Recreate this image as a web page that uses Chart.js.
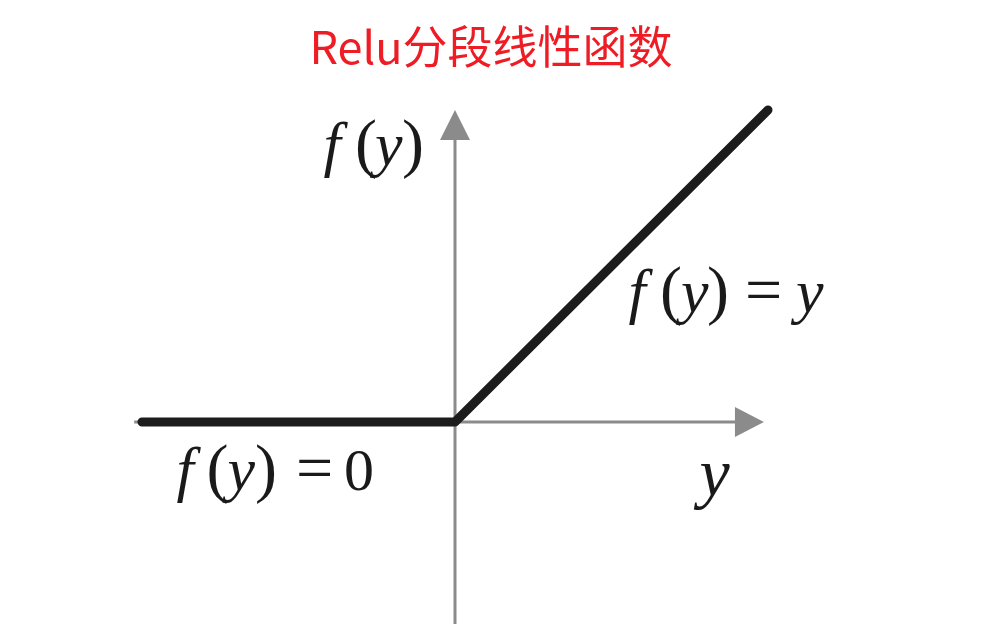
<!DOCTYPE html>
<html>
<head>
<meta charset="utf-8">
<script src="https://cdn.jsdelivr.net/npm/chart.js@4"></script>
<style>
  html, body { margin: 0; padding: 0; background: #ffffff; }
  #wrap { position: relative; width: 982px; height: 624px; }
</style>
</head>
<body>
<div id="wrap"><canvas id="c"></canvas></div>
<script>
// ---- data ----
const chartTitle = "Relu分段线性函数";
const inputValues = [-1, 0, 1];      // y (input)
const reluValues  = [0, 0, 1];       // f(y) = max(0, y)
const axisXRange  = [-1.025, 0.987]; // gray horizontal axis extent (data units)
const axisYTop    = 1.0;             // gray vertical axis arrow tip (data units)

// ---- annotation glyph layout (pixel offsets from the origin) ----
const labels = [
  { dy: 68, glyphs: [
    { t: "f", cx: -266, italic: true, size: 62 },
    { t: "(", cx: -237.5, size: 66 },
    { t: "y", cx: -216.5, italic: true, size: 62 },
    { t: ")", cx: -189, size: 66 },
    { t: "=", cx: -140.5, size: 66 },
    { t: "0", cx: -96, size: 60 } ] },
  { dy: -110, glyphs: [
    { t: "f", cx: 186, italic: true, size: 62 },
    { t: "(", cx: 216, size: 66 },
    { t: "y", cx: 237, italic: true, size: 62 },
    { t: ")", cx: 263, size: 66 },
    { t: "=", cx: 308.5, size: 66 },
    { t: "y", cx: 352, italic: true, size: 62 } ] },
  { dy: -257, glyphs: [
    { t: "f", cx: -119, italic: true, size: 62 },
    { t: "(", cx: -89, size: 66 },
    { t: "y", cx: -69, italic: true, size: 62 },
    { t: ")", cx: -42, size: 66 } ] },
  { dy: 74, glyphs: [
    { t: "y", cx: 257, italic: true, size: 68 } ] }
];

const axesPlugin = {
  id: "arrowAxes",
  beforeDatasetsDraw(chart) {
    const { ctx, scales: { x, y } } = chart;
    const ox = x.getPixelForValue(0), oy = y.getPixelForValue(0);
    const gray = "#8b8b8b";
    ctx.save();
    ctx.strokeStyle = gray; ctx.fillStyle = gray; ctx.lineWidth = 3;
    // horizontal axis
    const xl = x.getPixelForValue(axisXRange[0]), xr = x.getPixelForValue(axisXRange[1]);
    ctx.beginPath(); ctx.moveTo(xl, oy); ctx.lineTo(xr - 26, oy); ctx.stroke();
    ctx.beginPath(); ctx.moveTo(xr, oy); ctx.lineTo(xr - 29, oy - 15); ctx.lineTo(xr - 29, oy + 15); ctx.closePath(); ctx.fill();
    // vertical axis
    const yt = y.getPixelForValue(axisYTop), yb = y.getPixelForValue(y.min);
    ctx.beginPath(); ctx.moveTo(ox, yb); ctx.lineTo(ox, yt + 26); ctx.stroke();
    ctx.beginPath(); ctx.moveTo(ox, yt); ctx.lineTo(ox - 15, yt + 30); ctx.lineTo(ox + 15, yt + 30); ctx.closePath(); ctx.fill();
    ctx.restore();
  },
  afterDatasetsDraw(chart) {
    const { ctx, scales: { x, y } } = chart;
    const ox = x.getPixelForValue(0), oy = y.getPixelForValue(0);
    ctx.save();
    ctx.fillStyle = "#1a1a1a";
    ctx.textAlign = "left";
    ctx.textBaseline = "alphabetic";
    labels.forEach(lb => {
      lb.glyphs.forEach(g => {
        ctx.font = (g.italic ? "italic " : "") + g.size + "px 'Liberation Serif', 'DejaVu Serif', serif";
        const m = ctx.measureText(g.t);
        const px = ox + g.cx - (m.actualBoundingBoxRight - m.actualBoundingBoxLeft) / 2;
        ctx.fillText(g.t, px, oy + lb.dy);
      });
    });
    ctx.restore();
  }
};

new Chart(document.getElementById("c"), {
  type: "scatter",
  data: {
    datasets: [{
      data: inputValues.map((v, i) => ({ x: v, y: reluValues[i] })),
      showLine: true,
      borderColor: "#1c1c1c",
      borderWidth: 9,
      borderCapStyle: "round",
      borderJoinStyle: "round",
      pointRadius: 0,
      pointHoverRadius: 0,
      tension: 0
    }]
  },
  options: {
    responsive: true,
    maintainAspectRatio: false,
    animation: false,
    layout: { padding: 0 },
    plugins: {
      legend: { display: false },
      tooltip: { enabled: false },
      title: {
        display: true,
        text: chartTitle,
        color: "#ee1c25",
        font: { size: 45, family: "'Noto Sans CJK SC', 'Noto Sans', sans-serif", weight: "normal", lineHeight: 1.2 },
        padding: { top: 20, bottom: 0 }
      }
    },
    scales: {
      x: { type: "linear", min: -1.4537, max: 1.6837, display: false },
      y: { type: "linear", min: -0.6474, max: 1.1154, display: false }
    }
  },
  plugins: [axesPlugin]
});
</script>
</body>
</html>
